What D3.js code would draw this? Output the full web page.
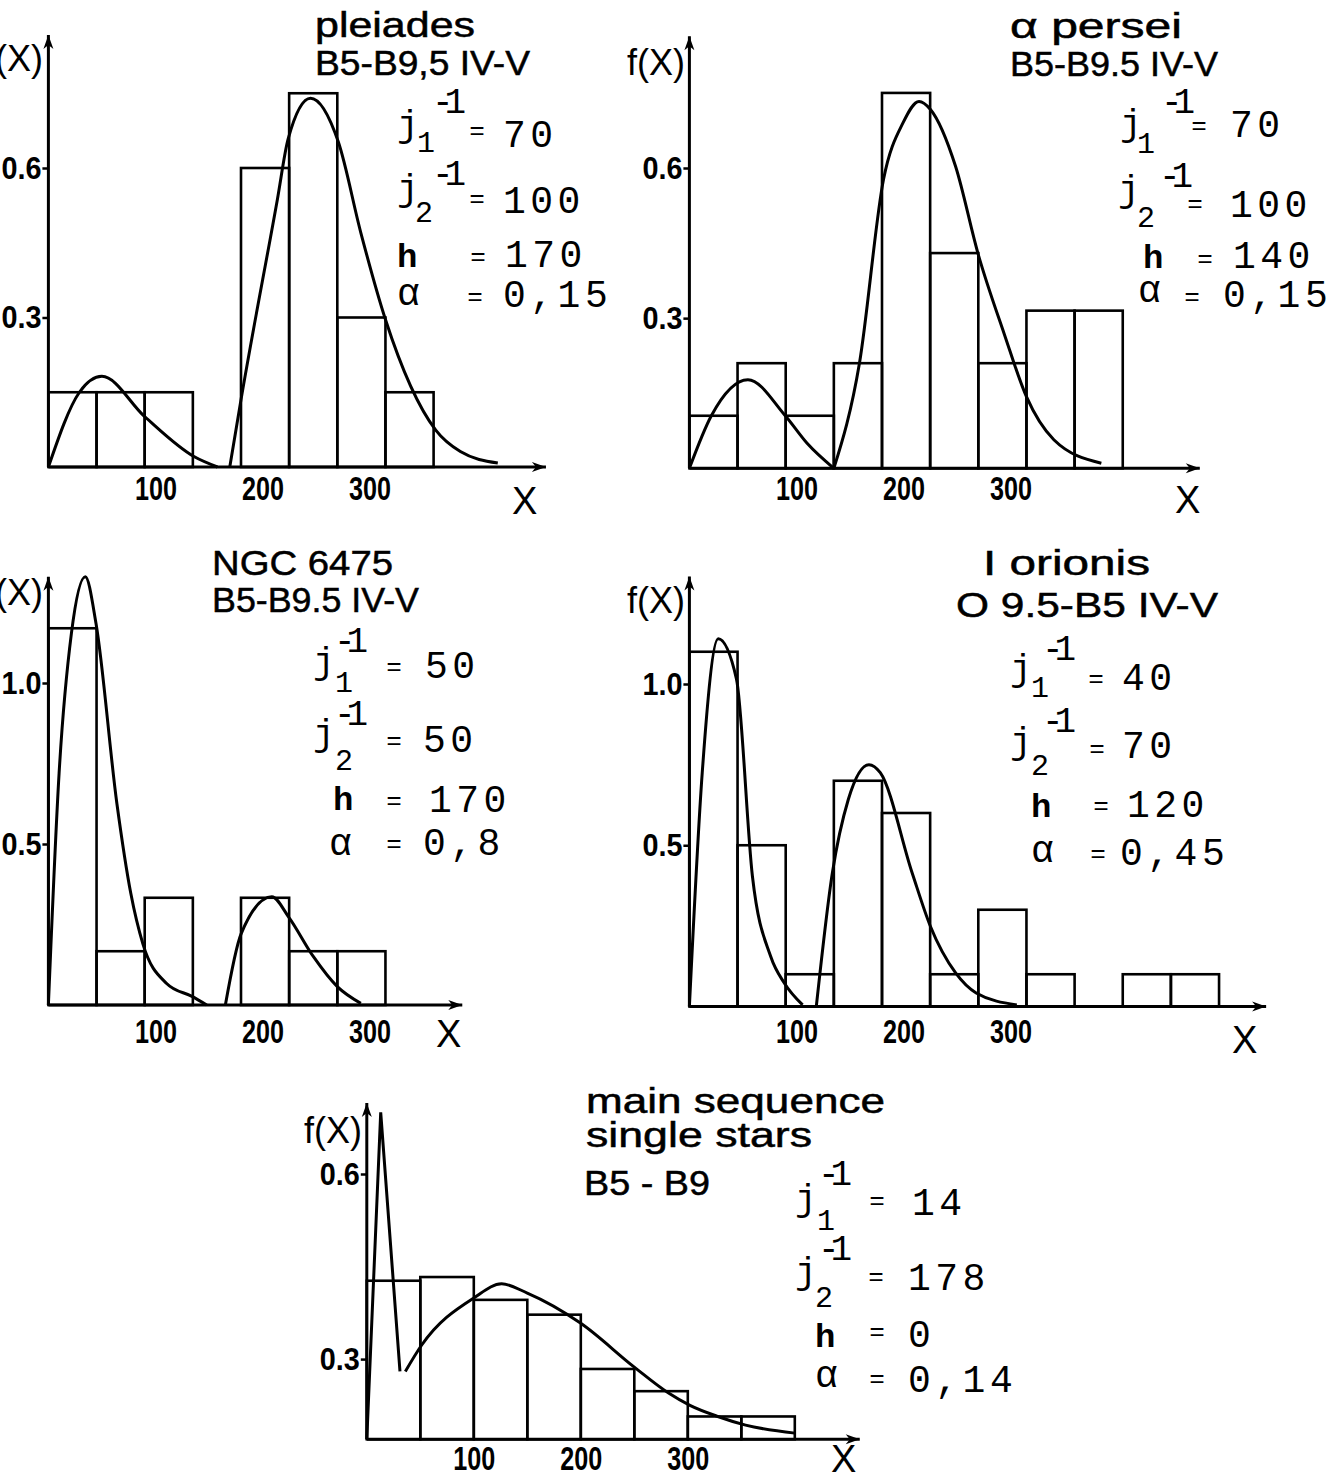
<!DOCTYPE html>
<html>
<head>
<meta charset="utf-8">
<script src="https://cdn.jsdelivr.net/npm/d3@7"></script>
<style>
  body { margin: 0; background: #fff; }
  svg { display: block; background: #fff; }
</style>
</head>
<body>
<svg id="chart" width="1333" height="1481"></svg>
<script>
// values
const xTickValues = [100, 200, 300];

// pleiades
const pleiadesTitle = ["pleiades", "B5-B9,5 IV-V"];
const pleiadesBins = [0, 45, 90, 180, 225, 270, 315];
const pleiadesFreq = [0.15, 0.15, 0.15, 0.6, 0.75, 0.3, 0.15];
const pleiadesFitA = [[0, 0], [29, 0.15], [50, 0.182], [90, 0.101], [136, 0.021], [158, 0]];
const pleiadesFitB = [[169.5, 0], [180, 0.135], [214, 0.537], [224, 0.658], [245, 0.74], [271, 0.652],
    [292, 0.47], [315, 0.296], [362, 0.074], [385, 0.031], [420, 0.008]];
const pleiadesParams = ["70", "100", "170", "0,15"];

// alpha persei
const perseiTitle = ["α persei", "B5-B9.5 IV-V"];
const perseiBins = [0, 45, 90, 135, 180, 225, 270, 315, 360];
const perseiFreq = [0.105, 0.21, 0.105, 0.21, 0.75, 0.43, 0.21, 0.315, 0.315];
const perseiFitA = [[0, 0], [20.5, 0.105], [54.7, 0.177], [89.6, 0.105], [110, 0.05], [135, 0]];
const perseiFitB = [[135, 0], [159, 0.211], [181.4, 0.577], [199.6, 0.69], [214.6, 0.733], [225.3, 0.717],
    [248.8, 0.603], [270, 0.427], [294, 0.27], [315, 0.143], [340.6, 0.057], [385, 0.01]];
const perseiParams = ["70", "100", "140", "0,15"];

// NGC 6475
const ngcTitle = ["NGC 6475", "B5-B9.5 IV-V"];
const ngcBins = [0, 45, 90, 180, 225, 270];
const ngcFreq = [1.17, 0.167, 0.333, 0.333, 0.167, 0.167];
const ngcFitA = [[0, 0], [10, 0.72], [21.5, 1.154], [34.5, 1.33], [44.5, 1.185], [64, 0.626], [77, 0.347],
    [88.3, 0.19], [110.5, 0.067], [134.7, 0.026], [148, 0]];
const ngcFitB = [[165.4, 0], [180, 0.22], [208.8, 0.336], [224.4, 0.274], [247.7, 0.15], [270, 0.057], [292, 0.005]];
const ngcParams = ["50", "50", "170", "0,8"];

// I orionis
const orionisTitle = ["I orionis", "O 9.5-B5 IV-V"];
const orionisBins = [0, 45, 90, 135, 180, 225, 270, 315, 405, 450];
const orionisFreq = [1.1, 0.5, 0.1, 0.7, 0.6, 0.1, 0.3, 0.1, 0.1, 0.1];
const orionisFitA = [[0, 0], [12, 0.725], [26.9, 1.14], [44, 1.015], [58.9, 0.404], [76, 0.155], [88.8, 0.072], [105.8, 0.005]];
const orionisFitB = [[118.6, 0], [133.6, 0.414], [148.5, 0.642], [167.8, 0.75], [178.4, 0.725], [208.2, 0.414],
    [225.3, 0.248], [248.8, 0.104], [268, 0.042], [306, 0.005]];
const orionisParams = ["40", "70", "120", "0,45"];

// main sequence single stars
const mainSeqTitle = ["main sequence", "single stars", "B5 - B9"];
const mainSeqBins = [0, 50, 100, 150, 200, 250, 300, 350];
const mainSeqFreq = [0.427, 0.433, 0.396, 0.372, 0.284, 0.248, 0.207, 0.207];
const mainSeqSpike = [[0, 0.17], [13, 0.70], [31, 0.28]];
const mainSeqFit = [[36, 0.28], [51, 0.322], [100, 0.399], [126, 0.422], [150, 0.407], [200, 0.358],
    [250, 0.287], [282, 0.245], [302, 0.225], [328, 0.207], [354, 0.193], [400, 0.18]];
const mainSeqParams = ["14", "178", "0", "0,14"];

// page layout of each panel (pixels)
let panels = [
    {
        title: pleiadesTitle, bins: pleiadesBins, freq: pleiadesFreq, binW: 45, fits: [pleiadesFitA, pleiadesFitB], spikes: [],
        params: pleiadesParams, x0: 48.4, yDom: [0, 0.6], yRange: [467, 168], yTicks: [0.3, 0.6], xEnd: 465, yEnd: 0.867,
        tickPad: 9.6, fLab: [43, 71], xLab: [512, 514],
        titlePos: [[315, 37, 160], [315, 75, 215]],
        rows: [
            {j: [397, 143], sub: [417, 152], sup: [432, 113], eq: [477, 132], val: [503, 147]},
            {j: [397, 207], sub: [415, 222], sup: [432, 185], eq: [477, 200], val: [503, 213]},
            {s: [397, 267], eq: [478, 258], val: [505, 267]},
            {s: [397, 305], eq: [475, 298], val: [503, 307]}
        ]
    },
    {
        title: perseiTitle, bins: perseiBins, freq: perseiFreq, binW: 45, fits: [perseiFitA, perseiFitB], spikes: [],
        params: perseiParams, x0: 689.4, yDom: [0, 0.6], yRange: [468.3, 168], yTicks: [0.3, 0.6], xEnd: 477, yEnd: 0.863,
        tickPad: 8.6, fLab: [685, 75], xLab: [1175, 513],
        titlePos: [[1010, 38, 172], [1010, 76, 208]],
        rows: [
            {j: [1120, 142], sub: [1137, 153], sup: [1161, 113], eq: [1199, 127], val: [1230, 137]},
            {j: [1118, 208], sub: [1137, 227], sup: [1159, 187], eq: [1195, 205], val: [1230, 217]},
            {s: [1143, 268], eq: [1205, 260], val: [1233, 268]},
            {s: [1138, 302], eq: [1192, 298], val: [1223, 307]}
        ]
    },
    {
        title: ngcTitle, bins: ngcBins, freq: ngcFreq, binW: 45, fits: [ngcFitA, ngcFitB], spikes: [],
        params: ngcParams, x0: 48.4, yDom: [0, 1], yRange: [1005, 683], yTicks: [0.5, 1.0], xEnd: 386.8, yEnd: 1.33,
        tickPad: 14.6, fLab: [43, 605], xLab: [436, 1047],
        titlePos: [[212, 575, 181], [212, 612, 207]],
        rows: [
            {j: [313, 680], sub: [335, 692], sup: [334, 652], eq: [394, 668], val: [425, 678]},
            {j: [313, 752], sub: [335, 770], sup: [334, 725], eq: [394, 742], val: [423, 752]},
            {s: [333, 810], eq: [394, 802], val: [429, 812]},
            {s: [329, 855], eq: [394, 845], val: [423, 855]}
        ]
    },
    {
        title: orionisTitle, bins: orionisBins, freq: orionisFreq, binW: 45, fits: [orionisFitA, orionisFitB], spikes: [],
        params: orionisParams, x0: 689.4, yDom: [0, 1], yRange: [1006.5, 684], yTicks: [0.5, 1.0], xEnd: 539, yEnd: 1.333,
        tickPad: 13, fLab: [685, 613], xLab: [1232, 1053],
        titlePos: [[983, 575, 167], [956, 617, 262]],
        rows: [
            {j: [1010, 687], sub: [1031, 697], sup: [1042, 660], eq: [1096, 680], val: [1122, 690]},
            {j: [1010, 760], sub: [1031, 775], sup: [1042, 732], eq: [1097, 750], val: [1122, 758]},
            {s: [1031, 817], eq: [1101, 807], val: [1127, 817]},
            {s: [1031, 862], eq: [1098, 855], val: [1120, 865]}
        ]
    },
    {
        title: mainSeqTitle, bins: mainSeqBins, freq: mainSeqFreq, binW: 50, fits: [mainSeqFit], spikes: [mainSeqSpike],
        params: mainSeqParams, x0: 366.8, yDom: [0.17, 0.6], yRange: [1439.3, 1174], yTicks: [0.3, 0.6], xEnd: 460.7, yEnd: 0.715,
        tickPad: 7.3, fLab: [362, 1143], xLab: [831, 1472],
        titlePos: [[586, 1113, 299], [586, 1147, 226], [584, 1195, 126]],
        rows: [
            {j: [795, 1217], sub: [817, 1230], sup: [818, 1185], eq: [877, 1202], val: [912, 1215]},
            {j: [795, 1290], sub: [815, 1307], sup: [818, 1260], eq: [876, 1278], val: [908, 1290]},
            {s: [815, 1347], eq: [877, 1333], val: [908, 1347]},
            {s: [815, 1387], eq: [877, 1380], val: [908, 1392]}
        ]
    }
];

const sans = "'Liberation Sans', Arial, Helvetica, sans-serif";
const narrow = "'Liberation Sans Narrow', 'Liberation Sans', Arial, sans-serif";
const mono = "'Liberation Mono', 'Courier New', monospace";

let svg = d3.select("#chart");
svg.append("rect").attr("width", 1333).attr("height", 1481).attr("fill", "#fff");

svg.append("defs").append("marker")
    .attr("id", "arrow")
    .attr("viewBox", "-15 -7 17 14")
    .attr("refX", 0).attr("refY", 0)
    .attr("markerWidth", 17).attr("markerHeight", 14)
    .attr("markerUnits", "userSpaceOnUse")
    .attr("orient", "auto")
    .append("path")
    .attr("d", "M-14,-5L0,0L-14,5L-10,0Z")
    .attr("fill", "#000");

function drawPanel(p) {
    let g = svg.append("g");
    let x = d3.scaleLinear().domain([0, 100]).range([p.x0, p.x0 + 107]);
    let y = d3.scaleLinear().domain(p.yDom).range(p.yRange);
    let base = p.yDom[0];

    // histogram
    g.append("g").selectAll("rect")
        .data(p.bins.map((b, i) => ({x: b, v: p.freq[i]})))
        .enter().append("rect")
        .attr("x", d => x(d.x))
        .attr("width", d => x(d.x + p.binW) - x(d.x))
        .attr("y", d => y(d.v))
        .attr("height", d => y(base) - y(d.v))
        .attr("fill", "none")
        .attr("stroke", "#000")
        .attr("stroke-width", 2.6);

    // fitted curves
    let smooth = d3.line().x(d => x(d[0])).y(d => y(d[1])).curve(d3.curveMonotoneX);
    let straight = d3.line().x(d => x(d[0])).y(d => y(d[1]));
    p.fits.forEach(f => {
        g.append("path").attr("d", smooth(f))
            .attr("fill", "none").attr("stroke", "#000").attr("stroke-width", 3);
    });
    p.spikes.forEach(f => {
        g.append("path").attr("d", straight(f))
            .attr("fill", "none").attr("stroke", "#000").attr("stroke-width", 3)
            .attr("stroke-linejoin", "miter");
    });

    // axes with arrows
    g.append("line")
        .attr("x1", x(0)).attr("y1", y(base)).attr("x2", x(p.xEnd)).attr("y2", y(base))
        .attr("stroke", "#000").attr("stroke-width", 3).attr("marker-end", "url(#arrow)");
    g.append("line")
        .attr("x1", x(0)).attr("y1", y(base)).attr("x2", x(0)).attr("y2", y(p.yEnd))
        .attr("stroke", "#000").attr("stroke-width", 3).attr("marker-end", "url(#arrow)");

    let xa = g.append("g")
        .attr("transform", `translate(0,${y(base)})`)
        .call(d3.axisBottom(x).tickValues(xTickValues).tickSize(0).tickPadding(p.tickPad));
    xa.select(".domain").remove();
    xa.selectAll("text")
        .attr("font-family", narrow).attr("font-weight", "bold").attr("font-size", 33)
        .attr("fill", "#000").attr("textLength", 42).attr("lengthAdjust", "spacingAndGlyphs");

    let ya = g.append("g")
        .attr("transform", `translate(${x(0)},0)`)
        .call(d3.axisLeft(y).tickValues(p.yTicks).tickSize(6).tickPadding(1).tickFormat(d3.format(".1f")));
    ya.select(".domain").remove();
    ya.selectAll("line").attr("stroke", "#000").attr("stroke-width", 2.5);
    ya.selectAll("text")
        .attr("font-family", narrow).attr("font-weight", "bold").attr("font-size", 32)
        .attr("fill", "#000").attr("textLength", 40).attr("lengthAdjust", "spacingAndGlyphs");

    // axis names
    g.append("text").attr("x", p.fLab[0]).attr("y", p.fLab[1])
        .attr("text-anchor", "end").attr("font-family", sans).attr("font-size", 36)
        .text("f(X)");
    g.append("text").attr("x", p.xLab[0]).attr("y", p.xLab[1])
        .attr("font-family", sans).attr("font-size", 38)
        .text("X");

    // title lines
    p.title.forEach((t, i) => {
        let pos = p.titlePos[i];
        g.append("text").attr("x", pos[0]).attr("y", pos[1])
            .attr("font-family", sans).attr("font-size", 35)
            .attr("stroke", "#000").attr("stroke-width", 0.5)
            .attr("textLength", pos[2]).attr("lengthAdjust", "spacingAndGlyphs")
            .text(t);
    });

    // typewritten fit parameters
    let pg = g.append("g").attr("font-family", mono).attr("fill", "#000");
    p.rows.forEach((r, i) => {
        if (r.j) {
            pg.append("text").attr("x", r.j[0]).attr("y", r.j[1] - 7).attr("font-size", 36).text("j");
            pg.append("text").attr("x", r.sub[0]).attr("y", r.sub[1]).attr("font-size", 30).text(i === 0 ? "1" : "2");
            pg.append("text").attr("x", r.sup[0]).attr("y", r.sup[1]).attr("font-size", 36)
                .attr("letter-spacing", -9).text("-1");
        } else {
            pg.append("text").attr("x", r.s[0]).attr("y", r.s[1])
                .attr("font-size", i === 2 ? 34 : 38).attr("font-weight", i === 2 ? "bold" : "normal")
                .text(i === 2 ? "h" : "α");
        }
        pg.append("text").attr("x", r.eq[0]).attr("y", r.eq[1])
            .attr("font-size", 26).attr("text-anchor", "middle").attr("dominant-baseline", "central")
            .text("=");
        pg.append("text").attr("x", r.val[0]).attr("y", r.val[1])
            .attr("font-size", 38).attr("letter-spacing", 4.5)
            .text(p.params[i]);
    });
}

panels.forEach(drawPanel);
</script>
</body>
</html>
